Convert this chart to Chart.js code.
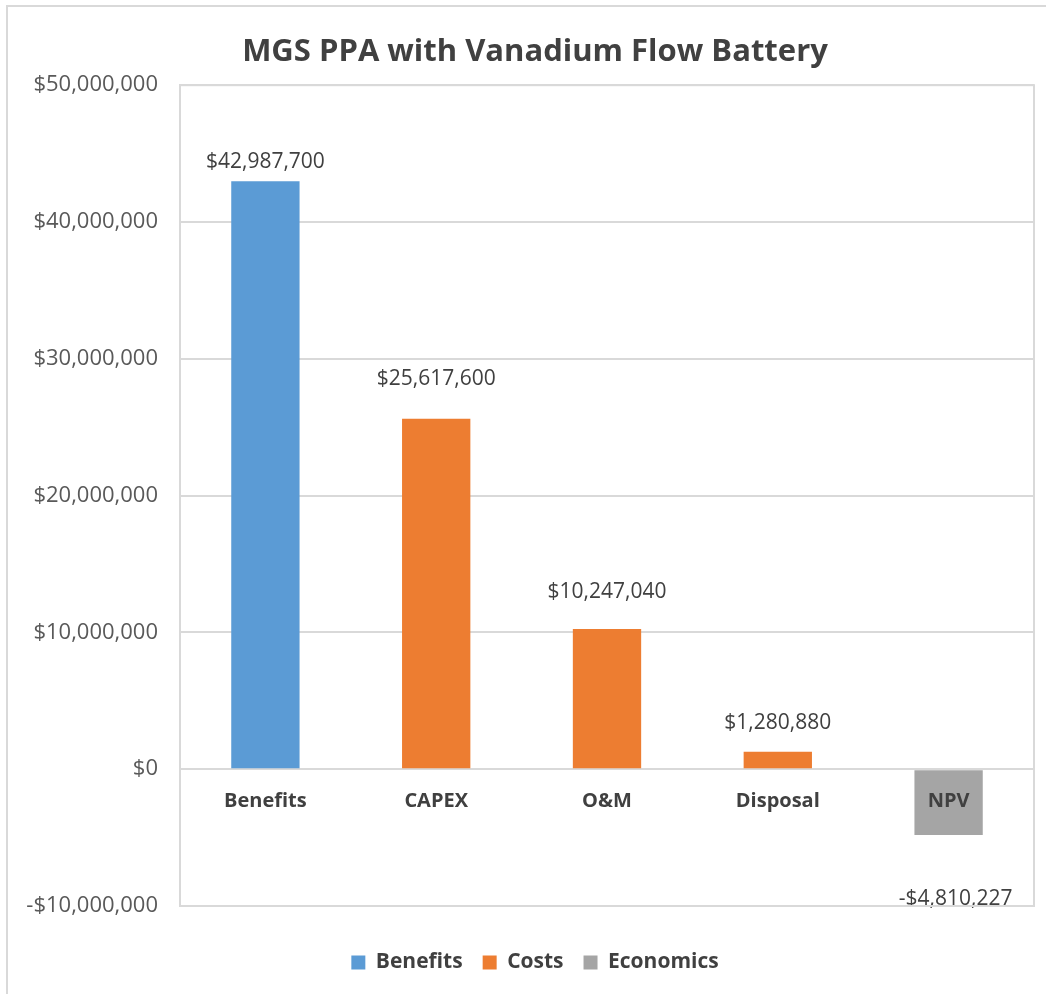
<!DOCTYPE html>
<html>
<head>
<meta charset="utf-8">
<script src="https://cdn.jsdelivr.net/npm/chart.js@4"></script>
<style>
  html, body { margin: 0; padding: 0; background: #fff; }
  #wrap { width: 1046px; height: 994px; position: relative; }
</style>
</head>
<body>
<div id="wrap"><canvas id="c"></canvas></div>
<script>
const categories = ['Benefits', 'CAPEX', 'O&M', 'Disposal', 'NPV'];
const benefits = [42987700, null, null, null, null];
const costs = [null, 25617600, 10247040, 1280880, null];
const economics = [null, null, null, null, -4810227];
const yTicks = [-10000000, 0, 10000000, 20000000, 30000000, 40000000, 50000000];

const FONT = "'Open Sans', 'Liberation Sans', sans-serif";

function money(v) {
  const s = '$' + Math.abs(Math.round(v)).toLocaleString('en-US');
  return v < 0 ? '-' + s : s;
}

const framePlugin = {
  id: 'frame',
  beforeDraw(chart) {
    const ctx = chart.ctx;
    ctx.save();
    ctx.fillStyle = '#ffffff';
    ctx.fillRect(0, 0, chart.width, chart.height);
    ctx.strokeStyle = '#d9d9d9';
    ctx.lineWidth = 2;
    ctx.beginPath();
    ctx.moveTo(7, chart.height + 5);
    ctx.lineTo(7, 6);
    ctx.lineTo(chart.width + 5, 6);
    ctx.stroke();
    ctx.restore();
  },
  afterDraw(chart) {
    const a = chart.chartArea;
    const ctx = chart.ctx;
    ctx.save();
    ctx.strokeStyle = '#d9d9d9';
    ctx.lineWidth = 2;
    ctx.strokeRect(a.left, a.top, a.right - a.left, a.bottom - a.top);
    ctx.restore();
  }
};

// label gap (px) between bar end and label centre, per category (style only)
const labelGaps = [19, 40, 37, 29, 0];

const labelPlugin = {
  id: 'valueLabels',
  afterDatasetsDraw(chart) {
    const ctx = chart.ctx;
    ctx.save();
    ctx.font = '21px ' + FONT;
    ctx.fillStyle = '#404040';
    ctx.textAlign = 'center';
    ctx.textBaseline = 'middle';
    chart.data.datasets.forEach((ds, i) => {
      const meta = chart.getDatasetMeta(i);
      meta.data.forEach((el, j) => {
        const v = ds.data[j];
        if (v === null || v === undefined) return;
        if (v >= 0) {
          ctx.fillText(money(v), el.x, el.y - labelGaps[j]);
        } else {
          ctx.fillText(money(v), el.x + 7, chart.chartArea.bottom - 7);
        }
      });
    });
    ctx.restore();
  }
};

new Chart(document.getElementById('c'), {
  type: 'bar',
  data: {
    labels: categories,
    datasets: [
      { label: 'Benefits', data: benefits, backgroundColor: '#5B9BD5' },
      { label: 'Costs', data: costs, backgroundColor: '#ED7D31' },
      { label: 'Economics', data: economics, backgroundColor: '#A5A5A5' }
    ]
  },
  options: {
    responsive: true,
    maintainAspectRatio: false,
    animation: false,
    layout: { padding: { left: 24, right: 0, top: 0, bottom: 11 } },
    datasets: { bar: { categoryPercentage: 1.0, barPercentage: 0.4 } },
    plugins: {
      title: {
        display: true,
        text: 'MGS PPA with Vanadium Flow Battery',
        color: '#404040',
        font: { family: FONT, size: 31, weight: 'bold', lineHeight: 1.2 },
        padding: { top: 34, bottom: 14 }
      },
      legend: {
        position: 'bottom',
        labels: {
          color: '#404040',
          font: { family: FONT, size: 21, weight: 'bold' },
          boxWidth: 14,
          boxHeight: 14,
          padding: 20
        }
      },
      tooltip: { enabled: false }
    },
    scales: {
      x: {
        stacked: true,
        position: 'bottom',
        grid: { display: false, drawTicks: false },
        border: { display: false },
        ticks: { display: false },
        afterFit(s) { s.height = 26; }
      },
      x2: {
        type: 'category',
        labels: categories,
        offset: true,
        position: { y: 0 },
        grid: { display: false, drawTicks: false },
        border: { display: false },
        ticks: {
          z: 1,
          color: '#404040',
          font: { family: FONT, size: 20, weight: 'bold' },
          padding: 20,
          maxRotation: 0,
          autoSkip: false
        }
      },
      y: {
        stacked: true,
        min: -10000000,
        max: 50000000,
        afterBuildTicks(s) { s.ticks = yTicks.map(v => ({ value: v })); },
        afterFit(s) { s.width = 156; },
        grid: { color: '#d9d9d9', lineWidth: 2, drawTicks: false },
        border: { display: true, color: '#d9d9d9', width: 2 },
        ticks: {
          color: '#595959',
          font: { family: FONT, size: 22 },
          padding: 22,
          callback: v => money(v)
        }
      },
      y2: {
        position: 'right',
        min: -10000000,
        max: 50000000,
        grid: { display: false, drawTicks: false },
        border: { display: false },
        ticks: { display: false },
        afterFit(s) { s.width = 12; }
      }
    }
  },
  plugins: [framePlugin, labelPlugin]
});
</script>
</body>
</html>
